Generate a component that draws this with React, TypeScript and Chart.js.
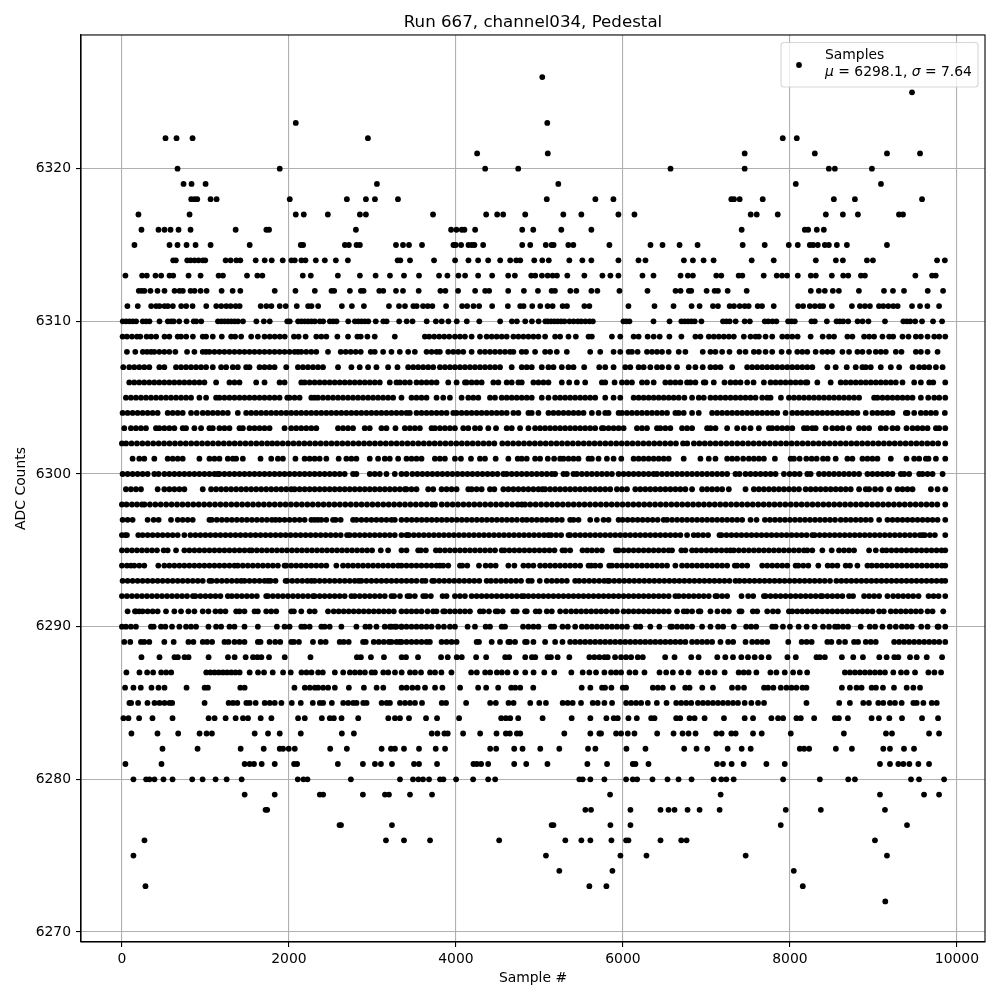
import React, { useEffect, useRef } from "react";
import { Chart, registerables } from "chart.js";

Chart.register(...registerables);

const titleText = "Run 667, channel034, Pedestal";
const xLabel = "Sample #";
const yLabel = "ADC Counts";
const seriesName = "Samples";
const meanText = "6298.1";
const sigmaText = "7.64";
const xTicks = [0, 2000, 4000, 6000, 8000, 10000];
const yTicks = [6270, 6280, 6290, 6300, 6310, 6320];

const a6326 = [5034];
const a6325 = [9462];
const a6323 = [2082, 5094];
const a6322 = [522, 654, 846, 2946, 7914, 8082];
const a6321 = [4254, 5100, 7458, 8298, 9162, 9558];
const a6320 = [666, 1890, 4350, 4746, 6570, 7458, 8466, 8538, 8982];
const a6319 = [738, 834, 1002, 3054, 5226, 8070, 9090];
const a6318 = [830, 870, 902, 1062, 1134, 2010, 2694, 2922, 3030, 3306, 5088, 5670, 5886, 7298, 7330, 7398, 7674, 8526, 8778, 9582];
const a6317 = [198, 810, 2082, 2178, 2466, 2850, 2922, 3726, 4362, 4494, 4566, 4830, 5286, 5502, 5946, 6138, 7530, 7602, 7854, 8430, 8634, 8814, 9306, 9354];
const a6316 = [234, 438, 510, 582, 678, 822, 1362, 1730, 1762, 2802, 3942, 4006, 4070, 4102, 4230, 4794, 4926, 5262, 5622, 7422, 8178, 8218, 8322, 8406];
const a6315 = [150, 570, 666, 774, 882, 1062, 1530, 2142, 2170, 2670, 2718, 2810, 2850, 3282, 3366, 3438, 3594, 3970, 3998, 4062, 4150, 4190, 4222, 4326, 4794, 4890, 5076, 5146, 5170, 5346, 5406, 5838, 6330, 6474, 6678, 6894, 7434, 7698, 7986, 8094, 8238, 8278, 8334, 8418, 8466, 8562, 8682, 9162];
const a6314 = [614, 646, 782, 822, 870, 918, 970, 998, 1242, 1302, 1370, 1418, 1602, 1710, 1794, 1926, 2030, 2070, 2150, 2198, 2322, 2430, 2562, 2706, 3302, 3334, 3450, 3738, 3990, 4150, 4266, 4386, 4530, 4650, 4722, 4770, 4938, 5034, 5112, 5358, 5514, 5622, 5946, 6186, 6270, 6730, 6838, 6966, 7086, 7542, 7806, 8310, 8550, 8634, 8922, 8994, 9762, 9855];
const a6313 = [42, 242, 298, 402, 470, 570, 614, 798, 942, 1158, 1210, 1498, 1622, 1682, 2166, 2262, 2586, 2850, 3038, 3210, 3378, 3558, 3798, 3898, 4030, 4110, 4266, 4434, 4626, 4706, 4902, 4950, 5030, 5098, 5158, 5210, 5334, 5538, 5754, 5850, 5946, 6234, 6366, 6690, 6778, 6838, 7118, 7178, 7386, 7430, 7686, 7842, 7906, 7966, 8094, 8250, 8310, 8502, 8638, 8698, 8850, 8898, 9502, 9702, 9746];
const a6312 = [202, 238, 270, 342, 426, 510, 630, 690, 730, 822, 870, 942, 1014, 1194, 1326, 1418, 1830, 2078, 2310, 2510, 2542, 2730, 2862, 2894, 3082, 3130, 3282, 3366, 3554, 3814, 3874, 4026, 4230, 4350, 4398, 4626, 4814, 4982, 5146, 5186, 5370, 5442, 5622, 5694, 5958, 6294, 6630, 6690, 6790, 6818, 7002, 7098, 7138, 7254, 7482, 8250, 8346, 8418, 8514, 8586, 8826, 9126, 9234, 9366, 9650, 9834];
const a6311 = [66, 190, 350, 410, 450, 510, 550, 610, 710, 770, 846, 1010, 1130, 1190, 1250, 1302, 1362, 1410, 1662, 1730, 1790, 1890, 1962, 2094, 2230, 2270, 2350, 2634, 2754, 2898, 3198, 3318, 3390, 3490, 3530, 3606, 3662, 3718, 3882, 4074, 4134, 4210, 4278, 4434, 4622, 4770, 4810, 4914, 5010, 5098, 5158, 5278, 5330, 5538, 5598, 6066, 6378, 6606, 6822, 6918, 7078, 7138, 7278, 7330, 7398, 7458, 7506, 7614, 7666, 7806, 8098, 8158, 8238, 8298, 8358, 8398, 8502, 8742, 8838, 8898, 8958, 9066, 9118, 9178, 9238, 9290, 9462, 9558, 9646, 9786];
const a6310 = [10, 50, 90, 130, 170, 250, 290, 330, 450, 550, 590, 620, 686, 774, 860, 890, 950, 1150, 1190, 1230, 1270, 1310, 1350, 1390, 1450, 1610, 1700, 1770, 1980, 2010, 2110, 2150, 2190, 2230, 2270, 2310, 2370, 2410, 2490, 2530, 2570, 2710, 2790, 2830, 2870, 2910, 2950, 3040, 3130, 3170, 3320, 3410, 3480, 3650, 3760, 3830, 3910, 4010, 4130, 4280, 4530, 4670, 4730, 4830, 4910, 4990, 5070, 5100, 5140, 5180, 5220, 5260, 5300, 5360, 5410, 5460, 5500, 5550, 5600, 5640, 6006, 6040, 6078, 6366, 6558, 6700, 6740, 6780, 6820, 6860, 6940, 7198, 7238, 7278, 7350, 7458, 7520, 7698, 7740, 7790, 7838, 7978, 8020, 8058, 8258, 8298, 8442, 8558, 8598, 8638, 8698, 8810, 8870, 8940, 9138, 9358, 9400, 9440, 9500, 9582, 9714, 9822];
const a6309 = [8, 60, 120, 180, 220, 296, 350, 410, 510, 568, 668, 708, 770, 850, 968, 1008, 1088, 1196, 1308, 1356, 1428, 1548, 1628, 1708, 1770, 1830, 1890, 1950, 2060, 2116, 2200, 2328, 2388, 2448, 2580, 2708, 2820, 2860, 2940, 3028, 3268, 3628, 3680, 3740, 3800, 3860, 3920, 3988, 4048, 4108, 4188, 4288, 4368, 4428, 4488, 4548, 4608, 4688, 4748, 4808, 4868, 4928, 4988, 5068, 5188, 5248, 5348, 5436, 5588, 5628, 5868, 5968, 6128, 6188, 6296, 6368, 6440, 6556, 6700, 6868, 6928, 7028, 7088, 7148, 7208, 7268, 7328, 7448, 7528, 7588, 7628, 7708, 7788, 7908, 7968, 8028, 8092, 8248, 8392, 8468, 8528, 8688, 8748, 8888, 8948, 9008, 9108, 9188, 9236, 9348, 9420, 9508, 9568, 9648, 9728, 9788, 9860];
const a6308 = [60, 160, 250, 300, 348, 388, 448, 508, 568, 640, 780, 868, 968, 1008, 1048, 1108, 1168, 1228, 1288, 1348, 1408, 1468, 1528, 1588, 1648, 1708, 1768, 1828, 1888, 1948, 2008, 2068, 2108, 2148, 2208, 2268, 2328, 2468, 2620, 2680, 2740, 2800, 2860, 2980, 3028, 3128, 3228, 3328, 3428, 3508, 3648, 3708, 3768, 3808, 3908, 3968, 4028, 4088, 4188, 4288, 4348, 4408, 4468, 4528, 4588, 4648, 4688, 4788, 4840, 4948, 5068, 5128, 5208, 5328, 5608, 5728, 5888, 5968, 6068, 6108, 6176, 6288, 6348, 6408, 6468, 6548, 6668, 6748, 6956, 7048, 7108, 7188, 7276, 7396, 7468, 7568, 7628, 7708, 7788, 7900, 7988, 8088, 8148, 8208, 8308, 8388, 8448, 8508, 8628, 8708, 8808, 8868, 8948, 9028, 9088, 9148, 9268, 9336, 9508, 9568, 9648, 9768];
const a6307 = [16, 88, 148, 208, 268, 328, 448, 508, 648, 708, 768, 828, 888, 948, 1008, 1088, 1188, 1248, 1328, 1388, 1488, 1528, 1648, 1708, 1768, 1828, 1968, 2108, 2168, 2228, 2288, 2348, 2408, 2588, 2748, 2848, 2948, 3048, 3188, 3300, 3428, 3488, 3548, 3608, 3668, 3728, 3808, 3868, 3928, 3988, 4048, 4108, 4168, 4228, 4288, 4348, 4408, 4468, 4528, 4668, 4788, 4848, 4908, 5028, 5108, 5168, 5268, 5348, 5408, 5536, 5716, 5788, 5888, 6028, 6088, 6188, 6248, 6328, 6408, 6468, 6548, 6648, 6788, 6868, 6956, 7048, 7108, 7168, 7308, 7488, 7548, 7608, 7668, 7728, 7788, 7848, 7908, 7968, 8028, 8088, 8148, 8208, 8268, 8448, 8548, 8680, 8788, 8868, 8908, 8968, 9088, 9208, 9308, 9468, 9548, 9608, 9668, 9748, 9828];
const a6306 = [88, 148, 208, 268, 328, 388, 448, 508, 568, 628, 688, 748, 808, 868, 928, 988, 1128, 1288, 1348, 1408, 1608, 1708, 1888, 1948, 2148, 2188, 2248, 2308, 2368, 2428, 2488, 2548, 2608, 2668, 2728, 2788, 2848, 2908, 2968, 3028, 3088, 3208, 3288, 3328, 3388, 3448, 3528, 3588, 3648, 3708, 3768, 3908, 4008, 4108, 4128, 4188, 4248, 4308, 4448, 4508, 4608, 4668, 4748, 4788, 4928, 4988, 5048, 5108, 5268, 5356, 5448, 5548, 5748, 5788, 5900, 5988, 6048, 6108, 6228, 6288, 6368, 6508, 6568, 6628, 6688, 6768, 6808, 6868, 6968, 6988, 7088, 7216, 7288, 7348, 7408, 7488, 7564, 7688, 7768, 7828, 7888, 7948, 8008, 8068, 8128, 8188, 8208, 8328, 8488, 8608, 8668, 8728, 8788, 8848, 8908, 8968, 9028, 9088, 9148, 9208, 9268, 9348, 9488, 9568, 9668, 9716, 9860];
const a6305 = [48, 108, 168, 228, 288, 348, 408, 468, 528, 588, 648, 708, 768, 828, 928, 1008, 1128, 1168, 1228, 1288, 1348, 1408, 1468, 1528, 1588, 1648, 1708, 1768, 1828, 1888, 1980, 2008, 2068, 2128, 2268, 2308, 2348, 2408, 2468, 2528, 2588, 2648, 2708, 2768, 2828, 2888, 2948, 3008, 3068, 3128, 3188, 3248, 3348, 3468, 3528, 3588, 3648, 3768, 3848, 3928, 4068, 4148, 4208, 4268, 4408, 4468, 4548, 4608, 4668, 4728, 4788, 4848, 4908, 5028, 5108, 5188, 5248, 5308, 5368, 5428, 5488, 5548, 5608, 5668, 5788, 5888, 5968, 6128, 6188, 6248, 6308, 6368, 6428, 6488, 6548, 6608, 6668, 6736, 6828, 6908, 6968, 7048, 7108, 7168, 7228, 7288, 7348, 7408, 7468, 7528, 7588, 7668, 7728, 7768, 7892, 7988, 8048, 8108, 8168, 8228, 8288, 8348, 8408, 8468, 8528, 8588, 8648, 8708, 8768, 8828, 9008, 9048, 9108, 9168, 9228, 9288, 9348, 9408, 9468, 9568, 9656, 9728, 9788, 9860];
const a6304 = [8, 68, 128, 188, 248, 308, 368, 428, 548, 608, 668, 728, 828, 896, 968, 1028, 1088, 1148, 1208, 1268, 1388, 1488, 1548, 1608, 1668, 1728, 1788, 1848, 1908, 1968, 2028, 2088, 2148, 2208, 2268, 2328, 2388, 2448, 2508, 2568, 2628, 2688, 2748, 2808, 2868, 2928, 2988, 3048, 3108, 3168, 3228, 3288, 3348, 3408, 3448, 3528, 3588, 3648, 3708, 3768, 3828, 3888, 3968, 4008, 4068, 4128, 4188, 4248, 4308, 4368, 4428, 4488, 4548, 4608, 4688, 4748, 4868, 4908, 4988, 5108, 5168, 5228, 5288, 5348, 5408, 5468, 5528, 5628, 5708, 5788, 5828, 5948, 5988, 6048, 6108, 6168, 6228, 6288, 6348, 6408, 6468, 6528, 6628, 6668, 6728, 6828, 6908, 7068, 7128, 7188, 7248, 7308, 7368, 7428, 7488, 7548, 7608, 7668, 7728, 7788, 7848, 7948, 8028, 8088, 8148, 8208, 8268, 8328, 8388, 8448, 8508, 8568, 8628, 8688, 8748, 8808, 8908, 8988, 9048, 9108, 9168, 9228, 9388, 9408, 9488, 9568, 9628, 9688, 9748, 9855];
const a6303 = [28, 108, 168, 228, 288, 408, 448, 508, 568, 628, 728, 768, 868, 948, 1048, 1088, 1168, 1228, 1288, 1408, 1448, 1528, 1588, 1648, 1708, 1768, 1948, 2028, 2088, 2148, 2208, 2268, 2328, 2588, 2648, 2708, 2768, 2908, 2968, 3108, 3168, 3276, 3388, 3448, 3508, 3568, 3708, 3748, 3808, 3868, 3928, 3988, 4088, 4148, 4228, 4288, 4388, 4480, 4608, 4668, 4768, 4868, 4948, 5008, 5068, 5128, 5188, 5248, 5308, 5368, 5428, 5488, 5548, 5608, 5668, 5748, 5768, 5828, 5888, 5948, 6008, 6168, 6228, 6288, 6408, 6448, 6508, 6568, 6708, 6768, 6828, 7008, 7048, 7108, 7248, 7368, 7448, 7528, 7628, 7748, 7788, 7848, 7908, 7968, 8028, 8168, 8208, 8268, 8308, 8428, 8508, 8568, 8628, 8708, 8828, 8888, 8948, 9088, 9148, 9228, 9288, 9396, 9468, 9528, 9588, 9648, 9748, 9788, 9860];
const a6302 = [0, 50, 115, 180, 245, 310, 375, 440, 505, 570, 635, 700, 765, 830, 895, 960, 1025, 1090, 1155, 1220, 1285, 1350, 1415, 1480, 1545, 1610, 1675, 1740, 1800, 1860, 1925, 1990, 2055, 2120, 2185, 2250, 2315, 2380, 2445, 2510, 2575, 2640, 2705, 2770, 2835, 2900, 2965, 3030, 3095, 3160, 3225, 3290, 3355, 3420, 3485, 3550, 3615, 3680, 3745, 3810, 3875, 3940, 4005, 4070, 4135, 4200, 4265, 4330, 4395, 4460, 4555, 4620, 4685, 4750, 4815, 4880, 4945, 5010, 5075, 5140, 5205, 5270, 5335, 5400, 5465, 5530, 5595, 5660, 5725, 5790, 5855, 5920, 5985, 6050, 6115, 6180, 6245, 6310, 6375, 6440, 6505, 6570, 6635, 6720, 6770, 6850, 6915, 6980, 7045, 7110, 7175, 7240, 7305, 7370, 7435, 7500, 7565, 7630, 7695, 7760, 7825, 7890, 7955, 8020, 8085, 8150, 8215, 8280, 8345, 8410, 8475, 8540, 8605, 8670, 8735, 8800, 8865, 8930, 8995, 9060, 9125, 9190, 9255, 9320, 9385, 9450, 9515, 9580, 9645, 9710, 9775, 9860];
const a6301 = [128, 208, 268, 388, 548, 608, 668, 728, 928, 1048, 1108, 1168, 1268, 1328, 1368, 1448, 1660, 1788, 1868, 1928, 2078, 2188, 2248, 2308, 2368, 2448, 2596, 2688, 2748, 2808, 2968, 3068, 3148, 3208, 3308, 3408, 3468, 3528, 3588, 3748, 3808, 3868, 3988, 4060, 4180, 4288, 4348, 4476, 4628, 4740, 4788, 4848, 4948, 5008, 5100, 5176, 5248, 5288, 5348, 5408, 5468, 5588, 5628, 5708, 5808, 5888, 5980, 6128, 6188, 6248, 6308, 6368, 6428, 6488, 6548, 6728, 6928, 7028, 7108, 7248, 7308, 7368, 7440, 7508, 7568, 7628, 7688, 7820, 8008, 8048, 8116, 8196, 8260, 8320, 8396, 8452, 8548, 8688, 8748, 8868, 8928, 8988, 9048, 9208, 9396, 9488, 9548, 9628, 9660, 9748, 9860];
const a6300 = [8, 68, 128, 188, 248, 308, 388, 440, 508, 568, 628, 688, 748, 808, 868, 928, 988, 1048, 1108, 1148, 1168, 1228, 1288, 1348, 1408, 1468, 1528, 1588, 1648, 1708, 1768, 1828, 1888, 1948, 2008, 2068, 2128, 2188, 2248, 2308, 2368, 2428, 2488, 2548, 2608, 2668, 2768, 2808, 2968, 3028, 3088, 3168, 3268, 3348, 3408, 3478, 3538, 3598, 3658, 3718, 3778, 3838, 3898, 3958, 4018, 4078, 4138, 4198, 4258, 4318, 4378, 4438, 4498, 4568, 4608, 4668, 4728, 4788, 4848, 4908, 4968, 5028, 5088, 5148, 5188, 5288, 5328, 5408, 5448, 5508, 5568, 5628, 5688, 5748, 5808, 5868, 5948, 6008, 6068, 6128, 6188, 6248, 6308, 6368, 6408, 6468, 6528, 6588, 6648, 6708, 6768, 6828, 6888, 6948, 7008, 7068, 7128, 7188, 7248, 7348, 7396, 7468, 7528, 7588, 7648, 7708, 7768, 7828, 7928, 7996, 8056, 8116, 8208, 8248, 8348, 8408, 8468, 8528, 8588, 8648, 8708, 8768, 8828, 8928, 8988, 9048, 9108, 9168, 9228, 9328, 9368, 9428, 9548, 9588, 9648, 9708, 9828];
const a6299 = [48, 108, 168, 228, 428, 508, 568, 628, 688, 748, 968, 1068, 1128, 1188, 1248, 1308, 1368, 1428, 1488, 1548, 1608, 1668, 1728, 1788, 1848, 1908, 1968, 2028, 2068, 2128, 2188, 2248, 2308, 2368, 2428, 2488, 2548, 2608, 2668, 2728, 2788, 2848, 2908, 2968, 3028, 3088, 3148, 3208, 3268, 3328, 3388, 3408, 3468, 3528, 3668, 3728, 3828, 3888, 3948, 4008, 4148, 4188, 4248, 4308, 4408, 4460, 4568, 4628, 4688, 4748, 4808, 4868, 4928, 4988, 5036, 5068, 5128, 5188, 5248, 5308, 5368, 5428, 5488, 5548, 5608, 5668, 5728, 5788, 5848, 5928, 5988, 6048, 6148, 6208, 6268, 6328, 6388, 6448, 6508, 6568, 6628, 6688, 6748, 6828, 6948, 7008, 7068, 7128, 7188, 7268, 7468, 7568, 7628, 7688, 7748, 7808, 7868, 7928, 7988, 8048, 8108, 8188, 8248, 8308, 8368, 8428, 8488, 8548, 8608, 8668, 8728, 8828, 8908, 8948, 9020, 9088, 9188, 9288, 9348, 9408, 9468, 9688, 9768, 9860];
const a6298 = [0, 55, 120, 180, 240, 270, 335, 400, 465, 530, 595, 660, 725, 790, 855, 920, 985, 1050, 1115, 1180, 1245, 1310, 1375, 1440, 1505, 1570, 1635, 1700, 1765, 1830, 1895, 1960, 2025, 2090, 2155, 2220, 2285, 2350, 2415, 2480, 2545, 2610, 2675, 2740, 2805, 2870, 2935, 3000, 3065, 3130, 3195, 3260, 3325, 3390, 3455, 3520, 3585, 3650, 3715, 3750, 3830, 3895, 3960, 4025, 4090, 4155, 4220, 4285, 4350, 4415, 4480, 4545, 4610, 4675, 4740, 4790, 4828, 4890, 4955, 5020, 5085, 5150, 5215, 5280, 5345, 5410, 5475, 5540, 5605, 5670, 5735, 5800, 5865, 5930, 5995, 6060, 6125, 6190, 6255, 6320, 6385, 6450, 6515, 6580, 6645, 6710, 6775, 6840, 6905, 6970, 7035, 7100, 7165, 7230, 7295, 7360, 7425, 7490, 7555, 7620, 7685, 7750, 7815, 7880, 7945, 8010, 8075, 8140, 8205, 8270, 8335, 8400, 8465, 8530, 8595, 8660, 8725, 8790, 8855, 8920, 8985, 9050, 9115, 9180, 9245, 9310, 9375, 9440, 9505, 9570, 9635, 9700, 9765, 9860];
const a6297 = [8, 68, 128, 308, 380, 440, 588, 668, 728, 788, 848, 1048, 1076, 1136, 1196, 1256, 1316, 1376, 1436, 1496, 1556, 1616, 1676, 1736, 1796, 1840, 1888, 1948, 2008, 2068, 2128, 2188, 2268, 2308, 2348, 2388, 2448, 2528, 2560, 2620, 2768, 2808, 2868, 2928, 2988, 3048, 3108, 3168, 3228, 3268, 3348, 3410, 3470, 3530, 3590, 3650, 3710, 3770, 3830, 3890, 3950, 4010, 4070, 4130, 4190, 4250, 4310, 4370, 4430, 4490, 4550, 4610, 4670, 4730, 4796, 4848, 4908, 4968, 5028, 5088, 5148, 5208, 5268, 5368, 5408, 5468, 5608, 5688, 5768, 5828, 5948, 5996, 6056, 6116, 6176, 6236, 6296, 6356, 6416, 6488, 6528, 6588, 6648, 6708, 6768, 6828, 6888, 6948, 7008, 7068, 7128, 7188, 7248, 7308, 7368, 7428, 7528, 7600, 7700, 7760, 7820, 7880, 7940, 8000, 8060, 8120, 8180, 8240, 8300, 8360, 8420, 8480, 8540, 8608, 8668, 8728, 8788, 8848, 8908, 8968, 9068, 9168, 9228, 9288, 9348, 9408, 9468, 9528, 9588, 9648, 9708, 9768, 9860];
const a6296 = [0, 40, 60, 196, 248, 308, 368, 428, 488, 548, 608, 668, 748, 820, 880, 940, 1000, 1060, 1120, 1180, 1240, 1300, 1360, 1420, 1480, 1540, 1600, 1660, 1720, 1780, 1840, 1900, 1960, 2020, 2080, 2140, 2200, 2260, 2320, 2380, 2440, 2500, 2560, 2620, 2696, 2728, 2788, 2848, 2908, 2968, 3028, 3088, 3148, 3208, 3268, 3348, 3408, 3420, 3436, 3496, 3556, 3616, 3676, 3736, 3796, 3856, 3916, 3976, 4036, 4096, 4156, 4216, 4276, 4336, 4396, 4456, 4516, 4576, 4636, 4696, 4756, 4816, 4876, 4936, 4996, 5056, 5108, 5140, 5200, 5260, 5348, 5368, 5428, 5488, 5548, 5608, 5668, 5728, 5788, 5848, 5908, 5968, 6028, 6088, 6148, 6208, 6268, 6328, 6388, 6448, 6508, 6568, 6628, 6688, 6768, 6848, 6900, 6960, 7020, 7156, 7180, 7240, 7300, 7360, 7420, 7480, 7540, 7600, 7660, 7720, 7780, 7840, 7900, 7960, 8020, 8080, 8140, 8200, 8268, 8296, 8356, 8416, 8476, 8536, 8596, 8656, 8716, 8776, 8836, 8896, 8956, 9016, 9076, 9136, 9196, 9256, 9316, 9376, 9436, 9496, 9556, 9588, 9616, 9676, 9736, 9860];
const a6295 = [0, 60, 120, 180, 240, 300, 360, 420, 500, 548, 648, 748, 808, 868, 928, 988, 1048, 1108, 1168, 1228, 1288, 1348, 1408, 1468, 1528, 1556, 1616, 1676, 1736, 1796, 1856, 1916, 1976, 2036, 2096, 2156, 2216, 2276, 2336, 2396, 2456, 2516, 2576, 2636, 2696, 2756, 2816, 2876, 2936, 2996, 3100, 3188, 3348, 3408, 3548, 3580, 3640, 3760, 3808, 3868, 3928, 3988, 4048, 4108, 4168, 4228, 4288, 4348, 4408, 4468, 4548, 4580, 4640, 4700, 4760, 4820, 4880, 4940, 5000, 5060, 5120, 5180, 5276, 5308, 5368, 5516, 5572, 5628, 5688, 5748, 5916, 5948, 6008, 6068, 6128, 6188, 6248, 6308, 6368, 6428, 6488, 6548, 6588, 6700, 6748, 6828, 6880, 6940, 7000, 7060, 7120, 7180, 7240, 7288, 7328, 7388, 7448, 7508, 7568, 7628, 7688, 7748, 7808, 7868, 7928, 7988, 8048, 8108, 8168, 8208, 8268, 8388, 8500, 8588, 8648, 8708, 8768, 8948, 9028, 9108, 9156, 9216, 9276, 9336, 9396, 9456, 9516, 9576, 9636, 9696, 9756, 9816, 9860];
const a6294 = [0, 60, 108, 148, 208, 268, 436, 508, 568, 628, 688, 748, 808, 868, 928, 988, 1048, 1108, 1168, 1228, 1288, 1348, 1388, 1448, 1508, 1568, 1628, 1688, 1748, 1808, 1868, 1948, 1968, 2028, 2088, 2148, 2208, 2268, 2328, 2388, 2448, 2568, 2648, 2708, 2768, 2828, 2888, 2948, 3008, 3068, 3128, 3188, 3248, 3308, 3348, 3408, 3468, 3528, 3588, 3648, 3708, 3768, 3808, 3848, 3908, 4048, 4076, 4136, 4276, 4356, 4416, 4476, 4628, 4700, 4808, 4868, 4928, 5008, 5068, 5128, 5188, 5248, 5308, 5368, 5428, 5488, 5588, 5620, 5668, 5728, 5836, 5868, 5928, 5988, 6048, 6108, 6168, 6228, 6288, 6348, 6408, 6468, 6528, 6628, 6708, 6828, 6768, 6888, 6948, 7008, 7068, 7128, 7188, 7248, 7340, 7368, 7428, 7488, 7668, 7728, 7788, 7848, 7908, 7968, 8068, 8100, 8160, 8220, 8340, 8452, 8508, 8568, 8668, 8720, 8808, 8928, 8980, 9040, 9100, 9160, 9220, 9280, 9340, 9400, 9460, 9520, 9580, 9640, 9700, 9760, 9820, 9860];
const a6293 = [8, 68, 128, 188, 248, 308, 368, 428, 488, 548, 608, 668, 728, 788, 848, 908, 968, 1048, 1076, 1136, 1196, 1256, 1316, 1376, 1428, 1468, 1528, 1588, 1648, 1708, 1748, 1780, 1840, 1960, 1980, 2040, 2100, 2160, 2220, 2268, 2308, 2368, 2428, 2488, 2548, 2608, 2668, 2728, 2788, 2836, 2868, 2928, 2988, 3048, 3108, 3168, 3228, 3288, 3348, 3408, 3468, 3528, 3596, 3636, 3716, 3740, 3800, 3860, 3920, 3980, 4040, 4100, 4160, 4220, 4280, 4368, 4420, 4480, 4540, 4600, 4660, 4720, 4780, 4868, 4908, 5004, 5088, 5148, 5208, 5268, 5328, 5428, 5476, 5536, 5596, 5656, 5716, 5776, 5820, 5836, 5896, 5956, 6016, 6076, 6136, 6196, 6256, 6316, 6376, 6436, 6496, 6556, 6616, 6676, 6736, 6796, 6856, 6916, 6976, 7036, 7096, 7156, 7216, 7276, 7348, 7396, 7456, 7516, 7576, 7636, 7696, 7756, 7816, 7876, 7936, 7996, 8056, 8116, 8176, 8236, 8296, 8356, 8416, 8480, 8556, 8616, 8676, 8736, 8796, 8856, 8916, 8976, 9036, 9096, 9156, 9216, 9276, 9336, 9396, 9456, 9516, 9576, 9636, 9696, 9756, 9816, 9860];
const a6292 = [0, 60, 120, 180, 240, 300, 360, 420, 480, 540, 600, 660, 720, 780, 850, 880, 940, 1000, 1060, 1120, 1180, 1268, 1316, 1376, 1436, 1496, 1556, 1616, 1728, 1748, 1808, 1868, 1928, 1988, 2048, 2108, 2168, 2228, 2288, 2308, 2368, 2428, 2488, 2548, 2608, 2668, 2748, 2788, 2848, 2908, 2968, 3028, 3088, 3148, 3228, 3260, 3330, 3420, 3448, 3508, 3608, 3640, 3700, 3840, 3888, 3988, 4048, 4108, 4188, 4248, 4308, 4368, 4428, 4488, 4548, 4608, 4668, 4728, 4788, 4816, 4868, 4928, 4988, 5048, 5108, 5168, 5228, 5288, 5348, 5408, 5468, 5528, 5588, 5648, 5708, 5768, 5828, 5888, 5948, 6008, 6068, 6128, 6188, 6248, 6308, 6368, 6428, 6488, 6548, 6628, 6668, 6728, 6788, 6848, 6908, 6968, 7028, 7108, 7128, 7188, 7248, 7420, 7500, 7560, 7688, 7708, 7768, 7828, 7888, 7948, 8008, 8068, 8128, 8188, 8248, 8308, 8368, 8388, 8448, 8508, 8568, 8628, 8708, 8756, 8888, 8948, 9008, 9068, 9168, 9236, 9296, 9356, 9416, 9476, 9540, 9660, 9720, 9780, 9860];
const a6291 = [68, 156, 168, 208, 248, 308, 368, 428, 528, 628, 708, 796, 868, 968, 1036, 1120, 1180, 1240, 1368, 1408, 1468, 1588, 1628, 1728, 1788, 1848, 2028, 2060, 2148, 2248, 2308, 2468, 2536, 2596, 2656, 2716, 2776, 2836, 2896, 2956, 3016, 3076, 3136, 3196, 3256, 3348, 3408, 3468, 3528, 3588, 3660, 3728, 3768, 3848, 3868, 3928, 3988, 4048, 4108, 4168, 4288, 4328, 4396, 4476, 4500, 4560, 4688, 4728, 4828, 4848, 4956, 5000, 5088, 5148, 5248, 5316, 5380, 5440, 5500, 5560, 5620, 5680, 5740, 5800, 5868, 5928, 6008, 6068, 6128, 6188, 6248, 6308, 6368, 6428, 6488, 6548, 6648, 6728, 6828, 6768, 6908, 6928, 7048, 7132, 7208, 7268, 7396, 7420, 7556, 7608, 7728, 7796, 7856, 7988, 8028, 8088, 8148, 8208, 8268, 8328, 8388, 8448, 8508, 8568, 8628, 8688, 8748, 8808, 8868, 8928, 8988, 9068, 9124, 9208, 9268, 9328, 9388, 9448, 9508, 9568, 9648, 9708, 9836];
const a6290 = [0, 48, 108, 168, 348, 380, 468, 520, 600, 688, 768, 828, 888, 1036, 1128, 1188, 1288, 1348, 1468, 1628, 1856, 1948, 2008, 2148, 2188, 2248, 2388, 2428, 2488, 2628, 2808, 2916, 2968, 3048, 3148, 3208, 3348, 3228, 3268, 3288, 3348, 3408, 3468, 3528, 3588, 3648, 3708, 3788, 3856, 3928, 3988, 4140, 4228, 4356, 4408, 4548, 4588, 4804, 4868, 4928, 4988, 5136, 5176, 5276, 5340, 5428, 5508, 5568, 5628, 5688, 5748, 5808, 5868, 5928, 5988, 6048, 6156, 6208, 6328, 6436, 6568, 6588, 6648, 6708, 6768, 6828, 6948, 7048, 7140, 7200, 7328, 7476, 7536, 7596, 7788, 7828, 7916, 8000, 8104, 8200, 8296, 8396, 8468, 8540, 8576, 8636, 8696, 8848, 8956, 9020, 9108, 9196, 9268, 9340, 9400, 9460, 9572, 9648, 9768, 9780, 9860];
const a6289 = [28, 100, 228, 268, 328, 508, 620, 796, 856, 968, 1020, 1080, 1228, 1276, 1348, 1408, 1468, 1628, 1660, 1768, 1836, 1896, 2028, 2060, 2120, 2288, 2380, 2440, 2608, 2656, 2716, 2888, 2920, 3016, 3076, 3136, 3196, 3328, 3228, 3288, 3348, 3408, 3468, 3528, 3588, 3648, 3688, 3828, 3888, 3948, 4008, 4248, 4276, 4428, 4528, 4628, 4648, 4708, 4828, 4848, 4928, 5068, 5188, 5276, 5368, 5428, 5488, 5548, 5608, 5668, 5728, 5788, 5848, 5908, 5968, 6028, 6088, 6148, 6208, 6268, 6328, 6388, 6448, 6508, 6568, 6628, 6688, 6748, 6828, 6888, 6948, 7008, 7068, 7168, 7260, 7320, 7468, 7548, 7608, 7668, 7728, 7980, 8140, 8200, 8260, 8448, 8496, 8588, 8660, 8768, 8816, 8908, 8968, 9028, 9248, 9308, 9368, 9428, 9488, 9548, 9608, 9668, 9728, 9788, 9860];
const a6288 = [234, 450, 630, 670, 750, 798, 1038, 1270, 1350, 1482, 1570, 1622, 1670, 1762, 1950, 2258, 2814, 2862, 2982, 3138, 3350, 3402, 3546, 3822, 3902, 4010, 4070, 4242, 4362, 4590, 4638, 4830, 4910, 4950, 5098, 5138, 5218, 5358, 5598, 5658, 5718, 5778, 5818, 5906, 5978, 6038, 6098, 6178, 6238, 6506, 6618, 6818, 6906, 7130, 7226, 7318, 7418, 7498, 7578, 7658, 7746, 7970, 8070, 8318, 8358, 8418, 8622, 8758, 8874, 9070, 9158, 9250, 9298, 9438, 9518, 9638, 9822];
const a6287 = [54, 210, 302, 374, 470, 530, 590, 1010, 1060, 1110, 1160, 1210, 1260, 1310, 1360, 1410, 1530, 1630, 1702, 1806, 1930, 2022, 2150, 2210, 2270, 2350, 2406, 2550, 2650, 2730, 2790, 2850, 2910, 2990, 3030, 3130, 3190, 3270, 3350, 3450, 3510, 3582, 3690, 3750, 3826, 3946, 4182, 4250, 4350, 4410, 4490, 4550, 4618, 4718, 4830, 4930, 5058, 5178, 5382, 5518, 5598, 5678, 5778, 5858, 5918, 5978, 6078, 6150, 6258, 6438, 6518, 6598, 6698, 6786, 6938, 7018, 7098, 7218, 7386, 7446, 7506, 7598, 7766, 7838, 7938, 8038, 8118, 8206, 8658, 8718, 8778, 8838, 8898, 8958, 9018, 9078, 9138, 9238, 9330, 9398, 9498, 9658, 9730, 9810];
const a6286 = [38, 138, 226, 354, 438, 510, 774, 990, 1030, 1418, 1470, 2066, 2190, 2250, 2310, 2350, 2410, 2470, 2550, 2718, 2898, 3050, 3130, 3350, 3410, 3478, 3542, 3630, 3750, 3838, 4050, 4266, 4362, 4506, 4662, 4710, 4770, 4926, 5506, 5610, 5750, 5786, 5862, 5998, 6038, 6358, 6418, 6478, 6598, 6746, 6798, 6950, 7078, 7306, 7378, 7450, 7690, 7738, 7802, 7890, 7958, 8018, 8078, 8150, 8198, 8622, 8718, 8798, 8858, 8978, 9030, 9114, 9246, 9398, 9478, 9558];
const a6285 = [90, 110, 194, 306, 390, 450, 510, 570, 602, 990, 1278, 1330, 1382, 1490, 1530, 1602, 1710, 1770, 1830, 1910, 2034, 2142, 2286, 2370, 2410, 2514, 2650, 2710, 2770, 2810, 2890, 2930, 3110, 3170, 3210, 3330, 3390, 3450, 3510, 3594, 3830, 3882, 4122, 4410, 4478, 4630, 4690, 4890, 4998, 5078, 5278, 5338, 5398, 5498, 5638, 5698, 5778, 5870, 6038, 6098, 6158, 6218, 6298, 6406, 6522, 6638, 6698, 6758, 6818, 6898, 6958, 7018, 7078, 7138, 7198, 7258, 7318, 7378, 7458, 7538, 7618, 7690, 8198, 8590, 8718, 8878, 8946, 9058, 9118, 9198, 9258, 9338, 9478, 9518, 9598, 9698, 9758];
const a6284 = [18, 78, 206, 366, 606, 1038, 1110, 1242, 1362, 1450, 1510, 1662, 1790, 2110, 2190, 2394, 2490, 2538, 2630, 2830, 3190, 3270, 3330, 3438, 3642, 3774, 4038, 4542, 4598, 4650, 4746, 5038, 5386, 5610, 5802, 5890, 5938, 6066, 6166, 6338, 6378, 6638, 6686, 6798, 6858, 6978, 7210, 7458, 7558, 7778, 7858, 7918, 8078, 8130, 8290, 8538, 8586, 8694, 8978, 9066, 9190, 9342, 9582, 9774];
const a6283 = [114, 426, 674, 930, 1014, 1078, 1590, 1750, 1890, 2142, 2634, 2778, 3710, 3778, 3862, 3902, 4086, 4290, 4486, 4598, 4646, 4730, 4770, 5298, 5610, 5718, 5738, 5918, 5978, 6058, 6138, 6410, 6606, 6714, 6786, 6870, 7118, 7182, 7298, 7350, 7558, 7662, 8010, 8646, 9150, 9222, 9666, 9786];
const a6282 = [486, 906, 1422, 1698, 1890, 1930, 1998, 2070, 2494, 2694, 3110, 3222, 3270, 3378, 3558, 3758, 3870, 4410, 4482, 4698, 4798, 5010, 5238, 5582, 5670, 6042, 6270, 6734, 6882, 7010, 7254, 7422, 7530, 8118, 8170, 8230, 8550, 8742, 9118, 9198, 9366, 9486];
const a6281 = [42, 474, 1470, 1530, 1582, 1674, 1830, 2062, 2098, 2586, 2886, 3030, 3102, 3234, 3498, 3558, 3774, 4210, 4250, 4302, 4386, 4698, 4842, 5096, 5574, 5810, 6118, 6150, 6306, 7126, 7198, 7302, 7446, 7718, 7938, 9078, 9198, 9298, 9358, 9430, 9538, 9666];
const a6280 = [138, 290, 330, 390, 498, 606, 842, 966, 1122, 1254, 1434, 2106, 2174, 2222, 2742, 3330, 3486, 3550, 3606, 3678, 3810, 3850, 4002, 4206, 4386, 4470, 5478, 5518, 5610, 5778, 6038, 6118, 6170, 6354, 6534, 6666, 6822, 7086, 7178, 7238, 7326, 7918, 8358, 8698, 8778, 9450, 9546, 9846];
const a6279 = [1470, 1830, 2370, 2410, 2886, 3150, 3198, 3450, 3714, 5846, 7170, 9078, 9606, 9786];
const a6278 = [1720, 1740, 5550, 5618, 6090, 6450, 6546, 6618, 6774, 6918, 7158, 7950, 8370, 9138];
const a6277 = [2606, 2624, 3234, 5146, 5168, 5850, 6090, 7890, 9402];
const a6276 = [270, 3162, 3378, 3690, 4518, 5310, 5502, 5610, 5862, 6038, 6066, 6450, 6698, 6762, 9018];
const a6275 = [138, 5078, 5970, 6282, 7470, 9162];
const a6274 = [5238, 5874, 8046];
const a6273 = [282, 5598, 5802, 8154];
const a6272 = [9142];

const levels: [number, number[]][] = [
  [6326, a6326], [6325, a6325], [6323, a6323], [6322, a6322], [6321, a6321], [6320, a6320], [6319, a6319], [6318, a6318],
  [6317, a6317], [6316, a6316], [6315, a6315], [6314, a6314], [6313, a6313], [6312, a6312], [6311, a6311], [6310, a6310],
  [6309, a6309], [6308, a6308], [6307, a6307], [6306, a6306], [6305, a6305], [6304, a6304], [6303, a6303], [6302, a6302],
  [6301, a6301], [6300, a6300], [6299, a6299], [6298, a6298], [6297, a6297], [6296, a6296], [6295, a6295], [6294, a6294],
  [6293, a6293], [6292, a6292], [6291, a6291], [6290, a6290], [6289, a6289], [6288, a6288], [6287, a6287], [6286, a6286],
  [6285, a6285], [6284, a6284], [6283, a6283], [6282, a6282], [6281, a6281], [6280, a6280], [6279, a6279], [6278, a6278],
  [6277, a6277], [6276, a6276], [6275, a6275], [6274, a6274], [6273, a6273], [6272, a6272],
];

const FONT = '"DejaVu Sans"';

const framePlugin = {
  id: "frameAndLegend",
  afterDraw(chart: any) {
    const { ctx, chartArea: a } = chart;
    ctx.save();
    ctx.strokeStyle = "#000";
    ctx.lineWidth = 1.1;
    ctx.strokeRect(a.left, a.top, a.right - a.left, a.bottom - a.top);

    // legend box
    const bx = 781, by = 42.5, bw = 197, bh = 44.5, r = 3;
    ctx.beginPath();
    ctx.roundRect(bx, by, bw, bh, r);
    ctx.fillStyle = "rgba(255,255,255,0.8)";
    ctx.fill();
    ctx.strokeStyle = "rgba(204,204,204,0.8)";
    ctx.lineWidth = 1.1;
    ctx.stroke();
    ctx.fillStyle = "#000";
    ctx.beginPath();
    ctx.arc(799, 65, 2.9, 0, Math.PI * 2);
    ctx.fill();
    ctx.textAlign = "left";
    ctx.textBaseline = "alphabetic";
    ctx.font = `13.9px ${FONT}`;
    ctx.fillText(seriesName, 825, 59);
    let x = 825;
    const parts: [string, boolean][] = [
      ["μ", true], [` = ${meanText}, `, false], ["σ", true], [` = ${sigmaText}`, false],
    ];
    for (const [t, it] of parts) {
      ctx.font = `${it ? "italic " : ""}13.9px ${FONT}`;
      ctx.fillText(t, x, 76);
      x += ctx.measureText(t).width;
    }
    ctx.restore();
  },
};

export default function App() {
  const ref = useRef<HTMLCanvasElement>(null);
  useEffect(() => {
    if (!ref.current) return;
    const points: { x: number; y: number }[] = [];
    for (const [level, samples] of levels) {
      for (const s of samples) points.push({ x: s, y: level });
    }
    const chart = new Chart(ref.current, {
      type: "scatter",
      data: {
        datasets: [
          {
            label: seriesName,
            data: points,
            backgroundColor: "#000",
            borderWidth: 0,
            pointRadius: 2.9,
            pointHoverRadius: 2.9,
          },
        ],
      },
      options: {
        animation: false,
        responsive: false,
        events: [],
        layout: { padding: { left: 0, right: 15, top: 0, bottom: 0 } },
        plugins: {
          legend: { display: false },
          tooltip: { enabled: false },
          title: {
            display: true,
            text: titleText,
            color: "#000",
            fullSize: false,
            font: { family: FONT, size: 16.67, weight: "normal", lineHeight: 1 },
            padding: { top: 14, bottom: 4.3 },
          },
        },
        scales: {
          x: {
            type: "linear",
            min: -490,
            max: 10336,
            afterBuildTicks: (s: any) => { s.ticks = xTicks.map((value) => ({ value })); },
            afterFit: (s: any) => { s.height = 58; },
            grid: { color: "#b0b0b0", lineWidth: 1.1, tickColor: "#000", tickLength: 5, drawOnChartArea: true },
            border: { color: "#000", width: 1.1 },
            ticks: {
              color: "#000", autoSkip: false, maxRotation: 0, padding: 4,
              font: { family: FONT, size: 13.9 },
              callback: (v: any) => String(v),
            },
            title: {
              display: true, text: xLabel, color: "#000",
              font: { family: FONT, size: 13.9, weight: "normal" },
              padding: { top: 4, bottom: 13 },
            },
          },
          y: {
            type: "linear",
            min: 6269.34,
            max: 6328.76,
            afterBuildTicks: (s: any) => { s.ticks = yTicks.map((value) => ({ value })); },
            afterFit: (s: any) => { s.width = 81; },
            grid: { color: "#b0b0b0", lineWidth: 1.1, tickColor: "#000", tickLength: 5, drawOnChartArea: true },
            border: { color: "#000", width: 1.1 },
            ticks: {
              color: "#000", autoSkip: false, padding: 5,
              font: { family: FONT, size: 13.9 },
              callback: (v: any) => String(v),
            },
            title: {
              display: true, text: yLabel, color: "#000",
              font: { family: FONT, size: 13.9, weight: "normal" },
              padding: { top: 13, bottom: 0 },
            },
          },
        },
      },
      plugins: [framePlugin],
    } as any);
    return () => chart.destroy();
  }, []);
  return (
    <div style={{ position: "fixed", left: 0, top: 0, width: 1000, height: 1000, background: "#fff" }}>
      <canvas ref={ref} width={1000} height={1000} style={{ display: "block" }} />
    </div>
  );
}
